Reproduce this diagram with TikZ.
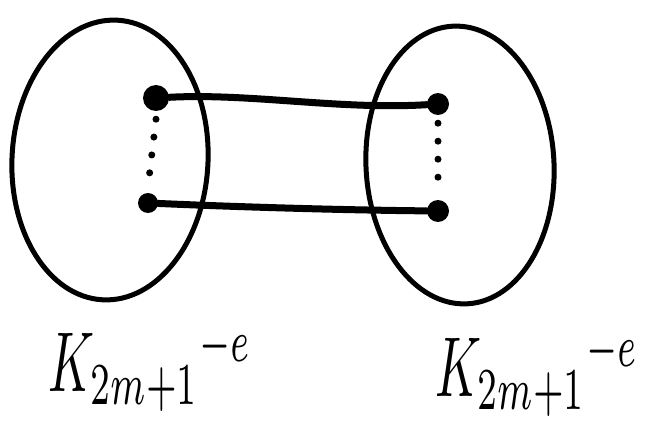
\documentclass[tikz,border=0pt]{standalone}
\usepackage{graphicx}
\begin{document}
\begin{tikzpicture}[x=1pt,y=-1pt,
  vtx/.style={circle,fill=black,inner sep=0pt,minimum size=20pt},
  edge/.style={line width=7pt,line cap=round},
  dots/.style={line width=7pt,line cap=round,dash pattern=on 0pt off 18pt},
  lbl/.style={inner sep=0pt}]
\useasboundingbox (0,0) rectangle (657,436);
\draw[line width=5pt,rotate around={-3:(110,160)}] (110,160) ellipse [x radius=98pt, y radius=140pt];
\draw[line width=5pt,rotate around={3:(460,165)}] (460,165) ellipse [x radius=94pt, y radius=139pt];
\node[vtx,minimum size=26pt] (a) at (156,98) {};
\node[vtx] (b) at (148,203) {};
\node[vtx,minimum size=22pt] (c) at (438,104) {};
\node[vtx,minimum size=22pt] (d) at (438,211) {};
\draw[edge] (a) .. controls (250,93) and (340,110) .. (c);
\draw[edge] (b) .. controls (240,207) and (340,210) .. (d);
\draw[dots] ([yshift=-8pt]a.south) -- ([yshift=6pt]b.north);
\draw[dots] ([yshift=-8pt]c.south) -- ([yshift=6pt]d.north);
\node[lbl] (l1) at (150,368) {\scalebox{5}[8.5]{$K_{2m+1}{}^{-e}$}};
\node[lbl] (l2) at (537,373) {\scalebox{5}[8.5]{$K_{2m+1}{}^{-e}$}};
\end{tikzpicture}
\end{document}
